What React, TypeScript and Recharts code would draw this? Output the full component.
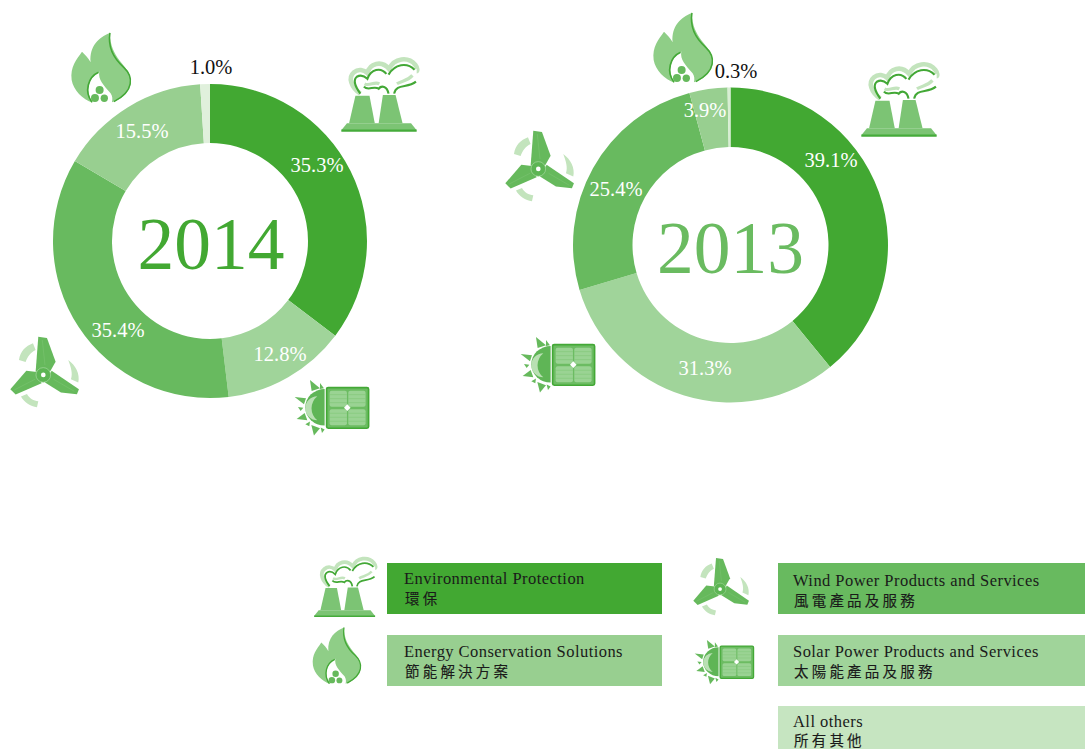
import React from "react"
import { PieChart, Pie, Cell } from "recharts"

const categories = ["Environmental Protection", "Solar Power Products and Services", "Wind Power Products and Services", "Energy Conservation Solutions", "All others"]
const values2014 = [35.3, 12.8, 35.4, 15.5, 1.0]
const values2013 = [39.1, 31.3, 25.4, 3.9, 0.3]
const colors2014 = ["#42A832", "#A0D49A", "#68BA5F", "#98CF90", "#E0F0DC"]
const colors2013 = ["#42A832", "#A0D49A", "#68BA5F", "#98CF90", "#D8EED3"]

// label anchors, the slices' midpoints don't match the original placement
const labelPos2014 = [[317, 172], [280, 361], [118, 337], [142, 138], [211, 74]]
const labelPos2013 = [[831, 167], [705, 375], [616, 196], [705, 117], [736, 78]]

const legendRows = [
  { en: "Environmental Protection", zh: "環保", x: 387, y: 563, w: 275, h: 51, fill: "#42A832", tx: 404, ben: 584, bzh: 604 },
  { en: "Energy Conservation Solutions", zh: "節能解決方案", x: 387, y: 635, w: 275, h: 51, fill: "#98CF90", tx: 404, ben: 657, bzh: 677 },
  { en: "Wind Power Products and Services", zh: "風電產品及服務", x: 778, y: 563, w: 307, h: 51, fill: "#68BA5F", tx: 793, ben: 586, bzh: 606 },
  { en: "Solar Power Products and Services", zh: "太陽能產品及服務", x: 778, y: 635, w: 307, h: 51, fill: "#A0D49A", tx: 793, ben: 657, bzh: 677 },
  { en: "All others", zh: "所有其他", x: 778, y: 706, w: 307, h: 43, fill: "#C6E5C1", tx: 793, ben: 727, bzh: 746 },
]

const serif = "'Liberation Serif', 'Times New Roman', serif"
const DARK = "#43A836"
const MID = "#66B95C"
const LIGHT = "#8FCE87"
const PALE = "#C3E4BD"

const toData = (vals: number[]) => categories.map((name, i) => ({ name, value: vals[i] }))

const Factory = ({ x, y, s }: { x: number; y: number; s: number }) => (
  <g transform={`translate(${x} ${y}) scale(${s})`}>
    <path d="M18,228 L34,208 L216,208 L232,228 Z" fill="#7CC474" />
    <path d="M18,229 L232,229" stroke="#45AB3A" strokeWidth={6} />
    <path d="M58,130 L98,130 L113,208 L40,208 Z" fill="#7CC474" />
    <path d="M136,128 L172,128 L192,208 L124,208 Z" fill="#7CC474" />
    <path d="M72,124 C46,106 36,78 54,63 C66,53 82,56 92,66 C98,38 132,28 154,54 C168,22 208,18 228,42 C236,52 234,60 232,60"
      fill="none" stroke={PALE} strokeWidth={13} />
    <path d="M72,124 C56,102 50,86 62,76 C72,70 84,74 92,82 C102,54 130,48 146,68 M152,70 C170,40 204,34 226,56"
      fill="none" stroke={DARK} strokeWidth={6} />
    <path d="M84,96 C98,104 112,88 126,96 M176,96 C190,86 204,90 220,72" fill="none" stroke={PALE} strokeWidth={9} />
    <path d="M82,104 C95,118 110,100 124,110 C132,100 148,102 152,124 M168,124 C174,94 206,110 230,90"
      fill="none" stroke={DARK} strokeWidth={6} />
  </g>
)

const Flame = ({ x, y, s }: { x: number; y: number; s: number }) => (
  <g transform={`translate(${x} ${y}) scale(${s})`}>
    <path d="M150,24 C118,36 88,62 92,112 C86,100 76,90 66,80 C50,104 30,124 35,165 C40,195 68,224 98,233 C78,205 78,165 118,140 C114,165 130,180 152,205 C158,215 158,222 156,232 C190,222 218,195 212,160 C205,120 150,100 150,24 Z"
      fill={LIGHT} />
    <path d="M150,24 C144,60 158,98 192,128 C220,154 224,198 162,230" fill="none" stroke={DARK} strokeWidth={4.5} />
    <path d="M116,142 C84,156 72,200 96,232" fill="none" stroke={DARK} strokeWidth={5} />
    <circle cx={119} cy={195} r={12} fill={MID} />
    <circle cx={105} cy={219} r={12} fill={MID} />
    <circle cx={133} cy={220} r={11} fill={MID} />
  </g>
)

const Turbine = ({ x, y, s }: { x: number; y: number; s: number }) => (
  <g transform={`translate(${x} ${y}) scale(${s})`}>
    <path d="M42,90 C46,64 62,48 84,40 L92,60 C76,68 68,80 62,96 Z" fill={PALE} />
    <path d="M190,90 C212,106 226,132 220,158 L198,148 C204,130 198,112 190,90 Z" fill={PALE} />
    <path d="M48,200 L66,192 C74,206 86,212 100,214 L96,232 C76,230 58,218 48,200 Z" fill={PALE} />
    <path d="M100,20 L126,24 L152,95 L135,125 L92,125 Z" fill={MID} />
    <path d="M16,178 L64,122 L96,126 L110,160 L32,194 Z" fill={MID} />
    <path d="M140,122 L222,178 L216,193 L168,188 L120,158 Z" fill={MID} />
    <path d="M112,30 L120,105 M28,180 L90,148 M146,148 L208,184" stroke="#8CCB84" strokeWidth={1} fill="none" />
    <circle cx={115} cy={135} r={22} fill="#5DB554" stroke="#A8D9A1" strokeWidth={2} />
    <circle cx={115} cy={135} r={7} fill="#fff" />
  </g>
)

const rayPoints = ["60,15 90,40 65,48", "90,24 102,40 90,42", "14,66 48,70 42,88", "24,96 40,98 32,108", "20,132 44,114 52,136", "46,148 60,140 58,154", "64,150 90,160 72,182", "92,158 104,164 96,174"]

const Solar = ({ x, y, s }: { x: number; y: number; s: number }) => (
  <g transform={`translate(${x} ${y}) scale(${s})`}>
    {rayPoints.map((p) => <polygon key={p} points={p} fill={MID} />)}
    <path d="M104,42 A58,55 0 0 0 104,152 Z" fill="#5FB556" />
    <path d="M82,64 A36,36 0 0 0 82,136 A46,46 0 0 1 82,64 Z" fill="#B9E0B3" />
    <rect x={110} y={38} width={126} height={122} rx={5} fill="#6CBC62" stroke={DARK} strokeWidth={5} />
    <rect x={119} y={47} width={52} height={48} rx={6} fill="#9AD393" />
    <rect x={175} y={47} width={52} height={48} rx={6} fill="#9AD393" />
    <rect x={119} y={103} width={52} height={48} rx={6} fill="#9AD393" />
    <rect x={175} y={103} width={52} height={48} rx={6} fill="#9AD393" />
    <path d="M119,59 H171 M119,71 H171 M119,83 H171 M175,59 H227 M175,71 H227 M175,83 H227 M119,115 H171 M119,127 H171 M119,139 H171 M175,115 H227 M175,127 H227 M175,139 H227"
      stroke="#7CC474" strokeWidth={1.5} />
    <rect x={165} y={91} width={14} height={14} fill="#fff" transform="rotate(45 172 98)" />
  </g>
)

const values = (pos: number[][]) => (pos === labelPos2014 ? values2014 : values2013)

const makeLabel = (pos: number[][]) => (props: any) => {
  const i = props.index
  return (
    <text x={pos[i][0]} y={pos[i][1]} textAnchor="middle" fontFamily={serif} fontSize={20.5}
      fill={i === 4 ? "#111" : "#fff"}>
      {values(pos)[i].toFixed(1)}%
    </text>
  )
}

const App = () => {
  return (
    <div style={{ position: "absolute", left: 0, top: 0, width: 1085, height: 749, overflow: "hidden", background: "#fff" }}>
      <PieChart width={1085} height={749} margin={{ top: 0, right: 0, bottom: 0, left: 0 }}>
        <Pie data={toData(values2014)} dataKey="value" cx={210} cy={241} innerRadius={98} outerRadius={157}
          startAngle={90} endAngle={-270} stroke="none" label={makeLabel(labelPos2014)} labelLine={false} isAnimationActive={false}>
          {colors2014.map((c) => <Cell key={c} fill={c} />)}
        </Pie>
        <Pie data={toData(values2013)} dataKey="value" cx={730.5} cy={245} innerRadius={98} outerRadius={157.5}
          startAngle={90} endAngle={-270} stroke="none" label={makeLabel(labelPos2013)} labelLine={false} isAnimationActive={false}>
          {colors2013.map((c) => <Cell key={c} fill={c} />)}
        </Pie>
        {/* the original's holes sit 3px right of the ring centres */}
        <circle cx={213} cy={241} r={103} fill="#fff" />
        <circle cx={733.7} cy={245.5} r={103} fill="#fff" />
        <text x={211} y={269} textAnchor="middle" fontFamily={serif} fontSize={73.5} fill="#42A832">2014</text>
        <text x={730.5} y={273} textAnchor="middle" fontFamily={serif} fontSize={73.5} fill="#6ABB60">2013</text>

        <Factory x={335} y={50} s={0.352} />
        <Factory x={855} y={55} s={0.352} />
        <Factory x={309} y={551} s={0.285} />
        <Flame x={60} y={25} s={0.333} />
        <Flame x={642} y={5} s={0.333} />
        <Flame x={303.5} y={621} s={0.27} />
        <Turbine x={5} y={330} s={0.333} />
        <Turbine x={500} y={124} s={0.333} />
        <Turbine x={689} y={552.6} s={0.27} />
        <Solar x={290} y={375} s={0.333} />
        <Solar x={516} y={332} s={0.333} />
        <Solar x={691} y={636} s={0.265} />

        {legendRows.map((r) => (
          <g key={r.en}>
            <rect x={r.x} y={r.y} width={r.w} height={r.h} fill={r.fill} />
            <text x={r.tx} y={r.ben} fontFamily={serif} fontSize={16.5} letterSpacing={0.45} fill="#1a1a1a">{r.en}</text>
            <text x={r.tx + 1} y={r.bzh} fontFamily="'Noto Sans CJK TC'" fontSize={14.5} letterSpacing={3.2} stroke="#1a1a1a" strokeWidth={0.15} fill="#1a1a1a">{r.zh}</text>
          </g>
        ))}
      </PieChart>
    </div>
  )
}

export default App
